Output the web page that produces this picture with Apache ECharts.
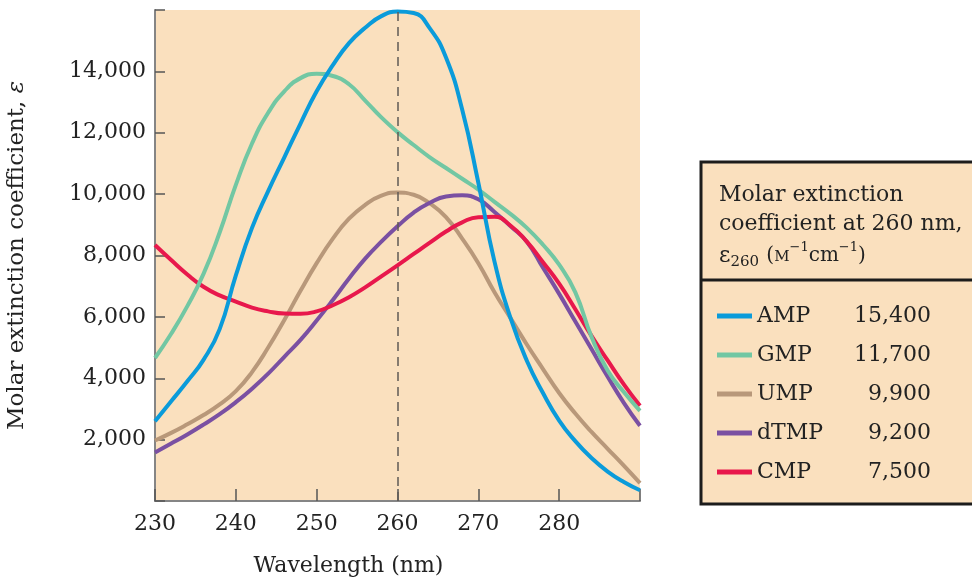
<!DOCTYPE html>
<html>
<head>
<meta charset="utf-8">
<script src="https://cdn.jsdelivr.net/npm/echarts@6/dist/echarts.min.js"></script>
<style>
  html, body { margin: 0; padding: 0; background: #fff; }
  #chart { width: 972px; height: 582px; }
</style>
</head>
<body>
<div id="chart"></div>
<script>
// 波长 (nm)
const wavelength = [230, 232, 234, 236, 238, 240, 242, 244, 246, 248, 250, 252, 254, 256, 258, 260,
                    262, 264, 266, 268, 270, 272, 274, 276, 278, 280, 282, 284, 286, 288, 290];
const amp  = [2600, 3250, 3900, 4600, 5600, 7350, 8900, 10100, 11200, 12300, 13350, 14200, 14920, 15420, 15800, 15950,
              15900, 15400, 14450, 12760, 10370, 7800, 5950, 4570, 3520, 2620, 1950, 1400, 960, 620, 350];
const gmp  = [4660, 5450, 6350, 7400, 8750, 10300, 11650, 12650, 13350, 13780, 13920, 13850, 13580, 13050, 12500, 12020,
              11600, 11200, 10850, 10500, 10150, 9750, 9350, 8900, 8350, 7700, 6800, 5350, 4250, 3550, 2940];
const ump  = [1970, 2220, 2500, 2800, 3150, 3580, 4200, 5000, 5900, 6850, 7750, 8550, 9200, 9650, 9950, 10050,
              9980, 9700, 9250, 8550, 7750, 6800, 5950, 5100, 4300, 3520, 2850, 2250, 1700, 1150, 580];
const dtmp = [1580, 1870, 2170, 2490, 2830, 3220, 3660, 4150, 4700, 5250, 5880, 6550, 7250, 7900, 8450, 8950,
              9400, 9720, 9920, 9960, 9830, 9420, 8950, 8450, 7600, 6750, 5850, 4950, 4050, 3200, 2450];
const cmp  = [8340, 7850, 7380, 6980, 6700, 6500, 6300, 6180, 6110, 6100, 6180, 6380, 6640, 6960, 7320, 7680,
              8050, 8420, 8780, 9080, 9250, 9260, 8970, 8450, 7780, 7080, 6250, 5380, 4580, 3800, 3100];

// 图例
const names = ['AMP', 'GMP', 'UMP', 'dTMP', 'CMP'];
const eps260 = ['15,400', '11,700', '9,900', '9,200', '7,500'];
const colors = ['#0A9BDA', '#72C7A3', '#B8987A', '#7A50A2', '#E8184C'];
const values = [amp, gmp, ump, dtmp, cmp];

const serif = '"DejaVu Serif", "Liberation Serif", serif';
const fmt = v => String(v).replace(/\B(?=(\d{3})+(?!\d))/g, ',');

const chart = echarts.init(document.getElementById('chart'));

// 画线顺序：AMP 在最上
const drawOrder = [2, 3, 4, 1, 0];
const series = drawOrder.map(i => ({
    name: names[i],
    type: 'line',
    showSymbol: false,
    smooth: 0.5,
    data: wavelength.map((w, k) => [w, values[i][k]]),
    lineStyle: { color: colors[i], width: 4 },
    itemStyle: { color: colors[i] },
    z: 3
}));
// 260 nm 虚线
series.unshift({
    type: 'line',
    data: [],
    z: 1,
    markLine: {
        silent: true,
        symbol: 'none',
        label: { show: false },
        lineStyle: { color: '#5f5a55', type: [9, 6], width: 1.5 },
        data: [{ xAxis: 260 }]
    }
});

const option = {
    animation: false,
    textStyle: { fontFamily: serif },
    grid: {
        left: 155, right: 332, top: 10, bottom: 76,
        show: true, backgroundColor: '#FAE0BE', borderWidth: 0
    },
    xAxis: {
        type: 'value',
        min: 230, max: 290, interval: 10,
        name: 'Wavelength (nm)',
        nameLocation: 'middle',
        nameGap: 54,
        nameTextStyle: { fontFamily: serif, fontSize: 22, color: '#222', padding: [0, 98, 0, 0] },
        axisLine: { lineStyle: { color: '#858585', width: 2 } },
        axisTick: { inside: true, length: 12, lineStyle: { color: '#555', width: 1.5 } },
        axisLabel: {
            fontFamily: serif, fontSize: 22, color: '#222', margin: 12,
            formatter: v => (v === 290 ? '' : String(v))
        },
        splitLine: { show: false }
    },
    yAxis: {
        type: 'value',
        min: 0, max: 16000, interval: 2000,
        name: 'Molar extinction coefficient, {i|ε}',
        nameLocation: 'middle',
        nameGap: 126,
        nameTextStyle: {
            fontFamily: serif, fontSize: 23, color: '#222',
            rich: { i: { fontFamily: serif, fontSize: 23, fontStyle: 'italic', color: '#222' } }
        },
        axisLine: { show: true, lineStyle: { color: '#858585', width: 2 } },
        axisTick: { show: true, inside: true, length: 10, lineStyle: { color: '#555', width: 1.5 } },
        axisLabel: {
            fontFamily: serif, fontSize: 22, color: '#222', margin: 9,
            formatter: v => (v === 0 || v === 16000 ? '' : fmt(v))
        },
        splitLine: { show: false }
    },
    legend: {
        data: names,
        orient: 'vertical',
        left: 712,
        top: 300,
        icon: 'rect',
        itemWidth: 35,
        itemHeight: 5,
        itemGap: 17,
        formatter: name => '{n|' + name + '}{v|' + eps260[names.indexOf(name)] + '}',
        textStyle: {
            fontFamily: serif, fontSize: 22, color: '#222',
            rich: {
                n: { fontFamily: serif, fontSize: 22, color: '#222', width: 80, lineHeight: 24 },
                v: { fontFamily: serif, fontSize: 22, color: '#222', width: 94, align: 'right', lineHeight: 24 }
            }
        }
    },
    graphic: [
        {
            type: 'rect',
            shape: { x: 701, y: 162, width: 300, height: 342 },
            style: { fill: '#FAE0BE', stroke: '#1c1c1c', lineWidth: 3 }
        },
        {
            type: 'line',
            shape: { x1: 701, y1: 280, x2: 972, y2: 280 },
            style: { stroke: '#1c1c1c', lineWidth: 3 }
        },
        {
            type: 'text', left: 719, top: 184,
            style: { text: 'Molar extinction', font: '22px ' + serif, fill: '#222' }
        },
        {
            type: 'text', left: 719, top: 213,
            style: { text: 'coefficient at 260 nm,', font: '22px ' + serif, fill: '#222' }
        },
        {
            type: 'text', left: 719, top: 239,
            style: {
                text: '{e|ε}{s|260} {t|(}{m|M}{p|−1}{t|cm}{p|−1}{t|)}',
                rich: {
                    e: { fontFamily: serif, fontSize: 22, fill: '#222', lineHeight: 34, verticalAlign: 'middle' },
                    s: { fontFamily: serif, fontSize: 15, fill: '#222', lineHeight: 34, verticalAlign: 'bottom', padding: [0, 4, 3, 0] },
                    t: { fontFamily: serif, fontSize: 20, fill: '#222', lineHeight: 34, verticalAlign: 'middle' },
                    m: { fontFamily: serif, fontSize: 15, fill: '#222', lineHeight: 34, verticalAlign: 'middle', padding: [3, 0, 0, 0] },
                    p: { fontFamily: serif, fontSize: 13, fill: '#222', lineHeight: 34, verticalAlign: 'top', padding: [2, 0, 0, 0] }
                }
            }
        }
    ],
    series: series
};
chart.setOption(option);
</script>
</body>
</html>
